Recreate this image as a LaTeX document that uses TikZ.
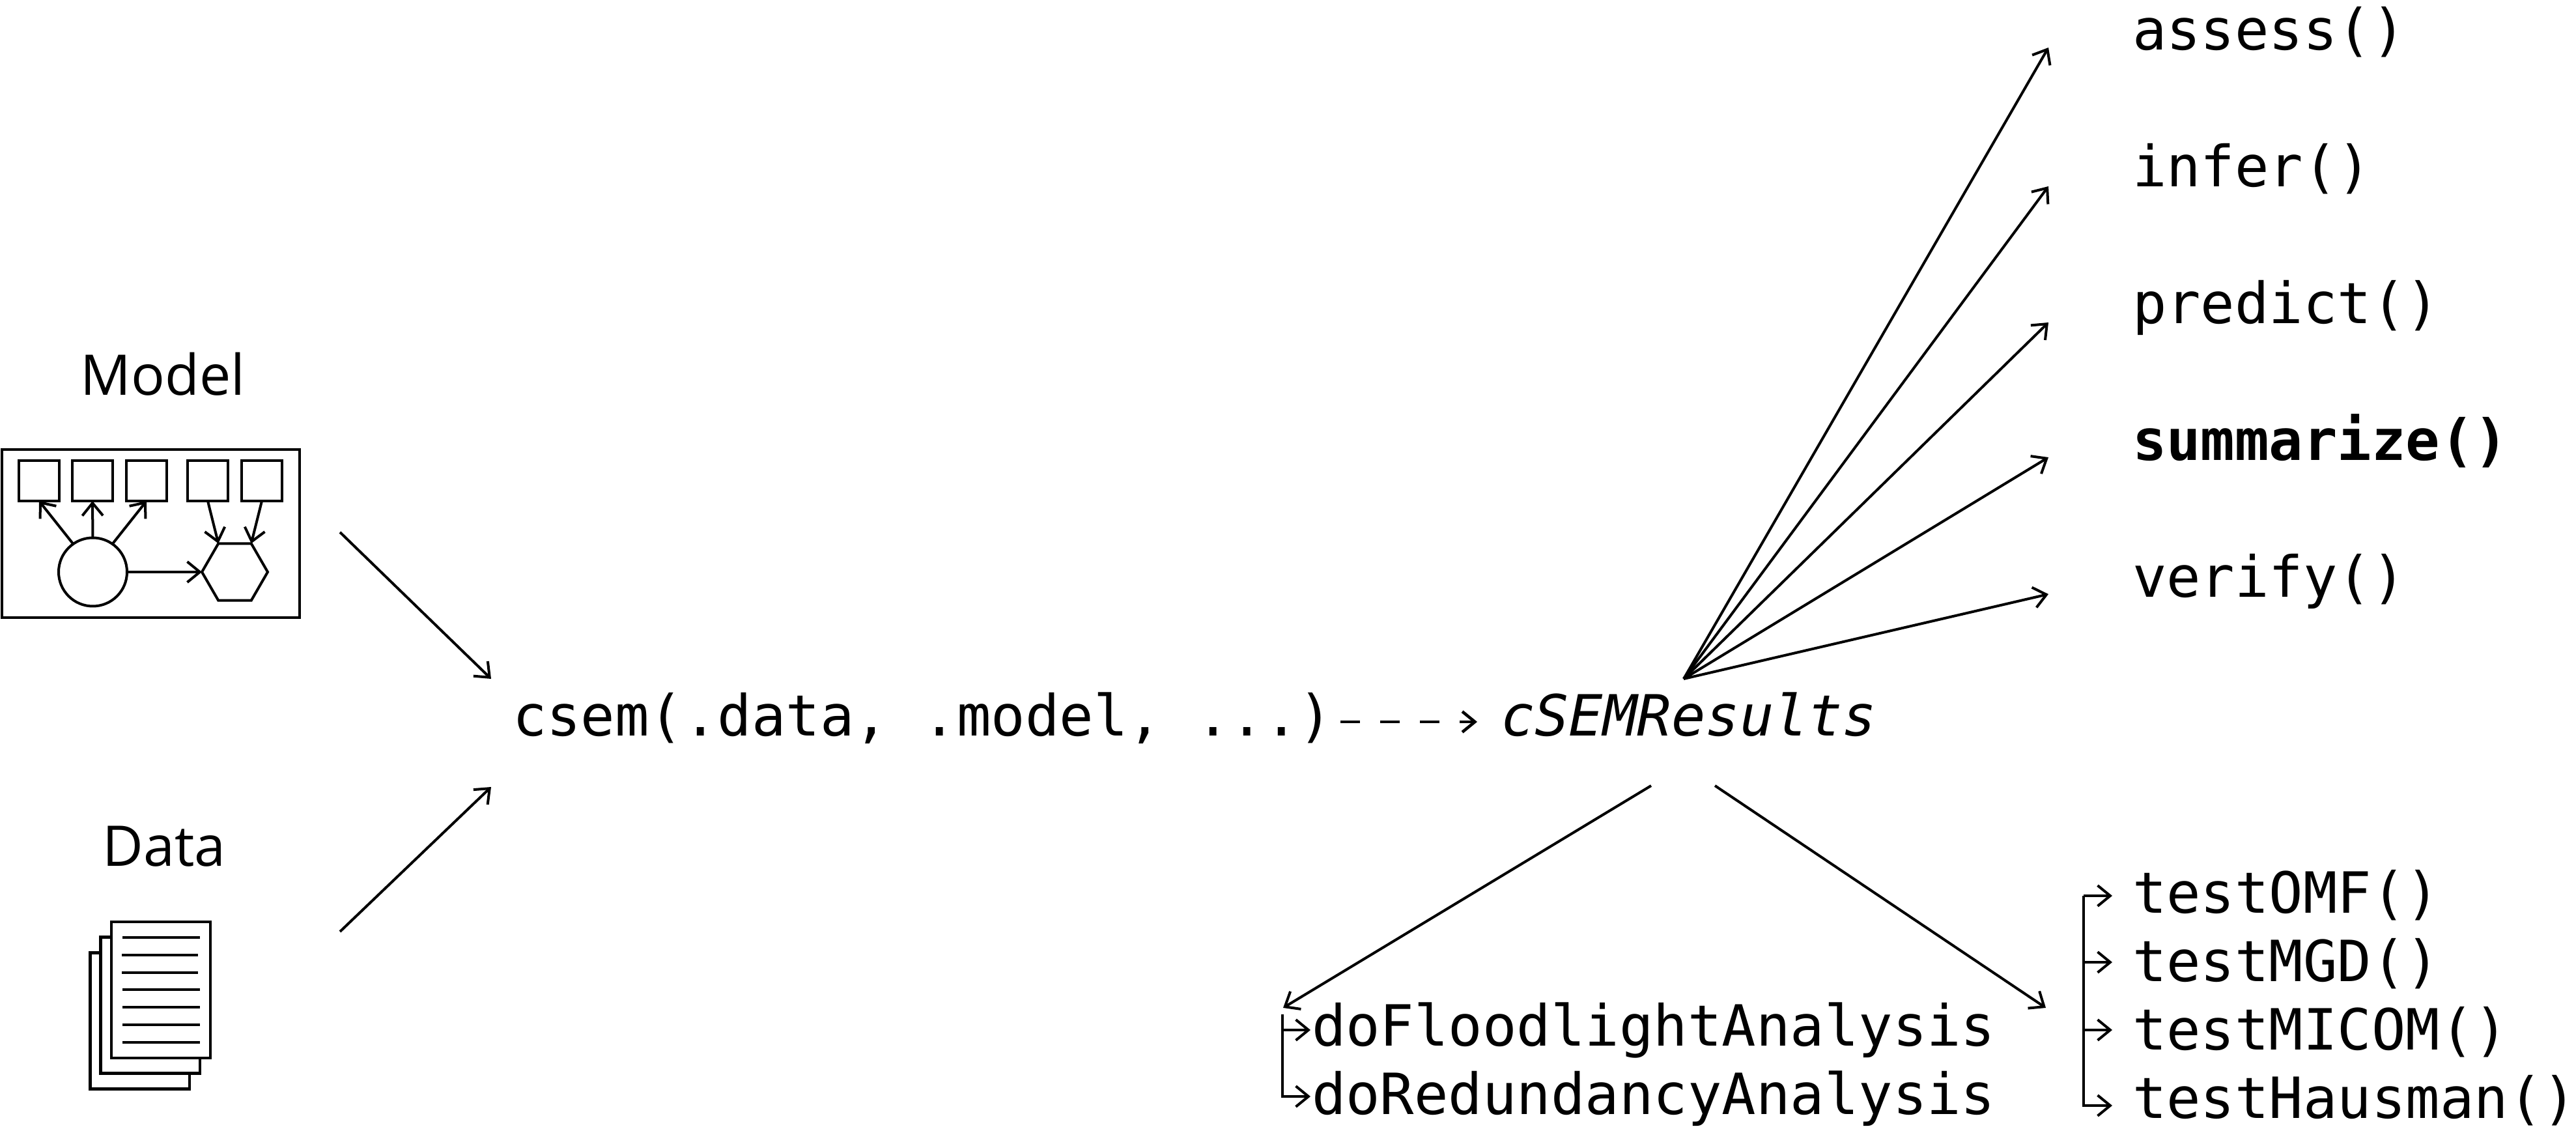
\documentclass[tikz,border=0pt]{standalone}
\usepackage{fontspec}
\setmainfont{Open Sans}
\setmonofont{DejaVu Sans Mono}
\usetikzlibrary{arrows.meta,shapes.geometric}
\begin{document}
\begin{tikzpicture}[line width=1.14pt,
    >={Straight Barb[length=5.5pt,width=9pt]},
    title/.style={font=\fontsize{24.5}{29}\selectfont, anchor=base, inner sep=0},
    fnlabel/.style={font=\fontsize{24.8}{30}\selectfont\ttfamily, anchor=base west, inner sep=0},
    indic/.style={draw, rectangle, minimum width=.62cm, minimum height=.62cm, inner sep=0, outer sep=0},
    sheet/.style={draw, rectangle, fill=white, minimum width=1.52cm, minimum height=2.09cm, inner sep=0, outer sep=0}]
    \useasboundingbox (0,0) rectangle (39.55,17.55);

    % Model icon
    \node[title] (modeltitle) at (2.50,11.48) {Model};
    \node[draw, rectangle, minimum width=4.57cm, minimum height=2.58cm, outer sep=0] (modelbox) at (2.315,9.36) {};
    \foreach \n/\x in {1/0.60,2/1.42,3/2.25,4/3.19,5/4.02} {
      \node[indic] (i\n) at (\x,10.17) {};
    }
    \node[draw, circle, minimum size=1.05cm, inner sep=0, outer sep=0] (lv) at (1.425,8.77) {};
    \node[draw, regular polygon, regular polygon sides=6, minimum size=1.01cm, inner sep=0, outer sep=0] (comp) at (3.605,8.77) {};
    \foreach \n/\a in {1/125,2/90,3/55} {
      \draw[->] (lv.\a) -- (i\n.south);
    }
    \draw[->] (i4.south) -- (comp.120);
    \draw[->] (i5.south) -- (comp.60);
    \draw[->] (lv) -- (comp.180);

    % Data icon
    \node[title] (datatitle) at (2.52,4.25) {Data};
    \node[sheet] (s1) at (2.145,1.88) {};
    \node[sheet] (s2) at (2.305,2.12) {};
    \node[sheet] (s3) at (2.47,2.355) {};
    \foreach \y/\a/\b in {3.16/1.88/3.07,2.89/1.87/3.04,2.62/1.87/3.04,2.36/1.88/3.07,2.09/1.88/3.07,1.82/1.88/3.07,1.55/1.88/3.07} {
      \draw (\a,\y) -- (\b,\y);
    }

    % Centre row
    \node[fnlabel] (csem) at (7.85,6.25) {csem(.data, .model, ...)};
    \node[fnlabel, font=\fontsize{24.8}{30}\selectfont\ttfamily\itshape] (results) at (23.02,6.25) {cSEMResults};
    \draw[->, line width=1.3pt, dash pattern=on .30cm off .31cm] ([shift={(.10,.22)}]csem.base east) -- ([shift={(-.34,.22)}]results.base west);

    \coordinate (modelout) at (5.22,9.38);
    \coordinate (modelin) at (7.54,7.13);
    \coordinate (dataout) at (5.22,3.25);
    \coordinate (datain) at (7.54,5.47);
    \draw[->] (modelout) -- (modelin);
    \draw[->] (dataout) -- (datain);

    % Postestimation functions
    \coordinate (fan) at (25.85,7.13);
    \foreach \fn/\y/\yy in {assess/16.78/16.82,infer/14.68/14.69,predict/12.58/12.60,verify/8.38/8.43} {
      \node[fnlabel] (\fn) at (32.72,\y) {\fn()};
      \coordinate (\fn in) at (31.45,\yy);
      \draw[->] (fan) -- (\fn in);
    }
    \node[fnlabel, font=\fontsize{24.8}{30}\selectfont\ttfamily\bfseries] (summarize) at (32.72,10.48) {summarize()};
    \coordinate (summarize in) at (31.45,10.53);
    \draw[->] (fan) -- (summarize in);

    % Lower branches
    \coordinate (dosrc) at (25.35,5.49);
    \coordinate (dotip) at (19.70,2.08);
    \coordinate (testsrc) at (26.33,5.49);
    \coordinate (testtip) at (31.41,2.08);
    \draw[->] (dosrc) -- (dotip);
    \draw[->] (testsrc) -- (testtip);

    \coordinate (dobus) at (19.69,1.98);
    \foreach \fn/\y/\d in {doFloodlightAnalysis/1.49/.25,doRedundancyAnalysis/0.45/.27} {
      \node[fnlabel] (\fn) at (20.12,\y) {\fn};
      \draw[->] (dobus) |- ([shift={(0,\d)}]\fn.base west);
    }

    \coordinate (testbus) at (31.99,3.80);
    \foreach \fn/\y/\d in {testOMF/3.53/.27,testMGD/2.48/.30,testMICOM/1.44/.30,testHausman/0.39/.19} {
      \node[fnlabel] (\fn) at (32.72,\y) {\fn()};
      \draw[->] (testbus) |- ([shift={(-.29,\d)}]\fn.base west);
    }

\end{tikzpicture}
\end{document}
